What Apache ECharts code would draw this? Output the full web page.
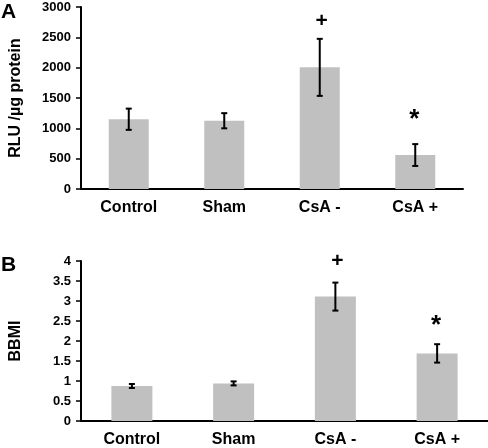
<!DOCTYPE html>
<html><head><meta charset="utf-8">
<script src="https://cdn.jsdelivr.net/npm/echarts@6/dist/echarts.min.js"></script>
<style>html,body{margin:0;padding:0;background:#fff}#c{width:488px;height:448px}</style>
</head><body><div id="c"></div>
<script>
const categories = ['Control', 'Sham', 'CsA -', 'CsA +'];
const rluValues = [1150, 1125, 2005, 560];
const rluErrors = [175, 125, 470, 180];
const rluMarks = ['', '', '+', '*'];
const bbmiValues = [0.875, 0.94, 3.11, 1.69];
const bbmiErrors = [0.05, 0.05, 0.35, 0.23];
const bbmiMarks = ['', '', '+', '*'];
const rluTicks = {min: 0, max: 3000, interval: 500};
const bbmiTicks = {min: 0, max: 4, interval: 0.5};

const FONT = '"Liberation Sans", Arial, sans-serif';
const chart = echarts.init(document.getElementById('c'), null, {renderer: 'canvas'});

function errSeries(idx, values, errors, marks, markOffsets) {
  return {
    type: 'custom', xAxisIndex: idx, yAxisIndex: idx, z: 10,
    data: values.map((v, i) => [i, v, errors[i]]),
    renderItem: function (params, api) {
      const i = api.value(0), v = api.value(1), e = api.value(2);
      const mark = marks[i];
      const top = api.coord([i, v + e]);
      const bot = api.coord([i, v - e]);
      const hw = 3;
      const st = {stroke: '#000', lineWidth: 2};
      const children = [
        {type: 'line', shape: {x1: top[0], y1: top[1], x2: bot[0], y2: bot[1]}, style: st},
        {type: 'line', shape: {x1: top[0] - hw, y1: top[1], x2: top[0] + hw, y2: top[1]}, style: st},
        {type: 'line', shape: {x1: bot[0] - hw, y1: bot[1], x2: bot[0] + hw, y2: bot[1]}, style: st}
      ];
      if (mark) {
        const size = mark === '*' ? 26 : 21;
        children.push({type: 'text', x: top[0] + (mark === '+' ? 2 : -1), y: top[1] - markOffsets[mark],
          style: {text: mark, fill: '#000', font: 'bold ' + size + 'px ' + FONT, align: 'center', verticalAlign: 'middle'}});
      }
      return {type: 'group', children: children};
    }
  };
}

const yAxisBase = {
  type: 'value',
  axisLine: {show: true, lineStyle: {color: '#000', width: 2}},
  axisTick: {show: true, length: 5, lineStyle: {color: '#000', width: 1.5}},
  splitLine: {show: false},
  axisLabel: {color: '#000', fontWeight: 'bold', fontSize: 13, fontFamily: FONT, margin: 10,
    formatter: function (v) { return String(v); }},
  nameLocation: 'middle',
  nameTextStyle: {color: '#000', fontWeight: 'bold', fontSize: 16, fontFamily: FONT}
};
const xAxisBase = {
  type: 'category', data: categories,
  axisLine: {show: true, lineStyle: {color: '#000', width: 2}},
  axisTick: {show: false},
  axisLabel: {color: '#000', fontWeight: 'bold', fontSize: 16, fontFamily: FONT, margin: 11}
};

chart.setOption({
  animation: false,
  backgroundColor: '#fff',
  grid: [
    {left: 72, right: 25, top: 7, bottom: 259},
    {left: 72, right: 0, top: 261, bottom: 25.5}
  ],
  xAxis: [
    Object.assign({}, xAxisBase, {gridIndex: 0}),
    Object.assign({}, xAxisBase, {gridIndex: 1})
  ],
  yAxis: [
    Object.assign({}, yAxisBase, {gridIndex: 0, min: rluTicks.min, max: rluTicks.max, interval: rluTicks.interval,
      name: 'RLU /µg protein', nameGap: 57}),
    Object.assign({}, yAxisBase, {gridIndex: 1, min: bbmiTicks.min, max: bbmiTicks.max, interval: bbmiTicks.interval,
      name: 'BBMI', nameGap: 57})
  ],
  graphic: [
    {type: 'text', left: 1, top: 2, style: {text: 'A', font: 'bold 21px ' + FONT, fill: '#000'}},
    {type: 'text', left: 1, top: 255, style: {text: 'B', font: 'bold 21px ' + FONT, fill: '#000'}}
  ],
  series: [
    {type: 'bar', xAxisIndex: 0, yAxisIndex: 0, data: rluValues, barWidth: 40, itemStyle: {color: '#c0c0c0'}},
    errSeries(0, rluValues, rluErrors, rluMarks, {'+': 18, '*': 24}),
    {type: 'bar', xAxisIndex: 1, yAxisIndex: 1, data: bbmiValues, barWidth: 41, itemStyle: {color: '#c0c0c0'}},
    errSeries(1, bbmiValues, bbmiErrors, bbmiMarks, {'+': 21, '*': 18})
  ]
});
</script></body></html>
